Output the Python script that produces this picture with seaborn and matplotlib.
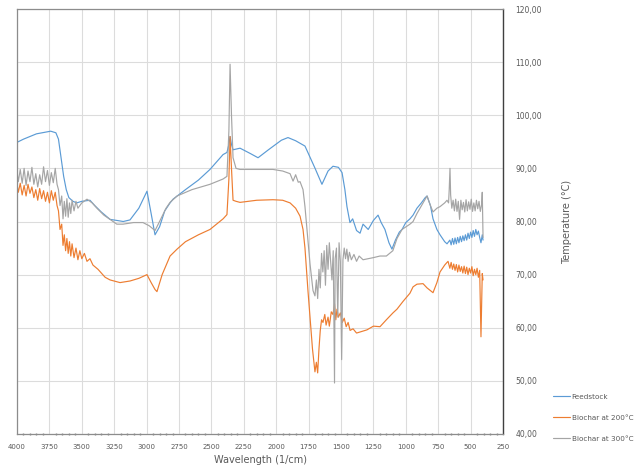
import pandas as pd
import numpy as np
import seaborn as sns
from matplotlib import pyplot as plt
from matplotlib.ticker import MultipleLocator, FuncFormatter

sns.set_theme(style="white")
plt.rcParams['font.family'] = ['DejaVu Sans']

# Feedstock (blue)
feed_x = [4000, 3950, 3900, 3850, 3784, 3740, 3700, 3680, 3660, 3640, 3620, 3600, 3568, 3540,
          3500, 3437, 3400, 3350, 3282, 3230, 3180, 3128, 3060, 2997, 2965, 2935, 2900, 2860,
          2819, 2796, 2700, 2600, 2511, 2410, 2380, 2365, 2356, 2345, 2333, 2279, 2200, 2140,
          2060, 1960, 1909, 1850, 1778, 1700, 1647, 1600, 1562, 1520, 1492, 1470, 1454, 1431,
          1410, 1380, 1353, 1330, 1290, 1250, 1214, 1190, 1161, 1130, 1107, 1080, 1050, 1029,
          1000, 968, 944, 914, 880, 850, 836, 810, 790, 760, 736, 700, 682, 660, 650, 640, 630,
          620, 610, 600, 590, 580, 570, 560, 550, 540, 530, 520, 510, 500, 490, 480, 470, 460,
          450, 440, 430, 420, 410, 404]
feed_y = [94.9, 95.5, 96.0, 96.5, 96.8, 97.0, 96.7, 95.5, 92.0, 88.5, 86.0, 84.5, 83.8, 83.5,
          83.8, 84.0, 83.0, 81.8, 80.4, 80.2, 80.0, 80.3, 82.5, 85.7, 81.5, 77.5, 79.0, 82.0,
          83.5, 84.2, 86.0, 87.8, 89.8, 92.6, 93.0, 94.5, 96.0, 94.5, 93.5, 93.8, 92.8, 92.0,
          93.5, 95.3, 95.8, 95.2, 94.2, 90.0, 87.0, 89.5, 90.4, 90.2, 89.2, 86.0, 82.8, 79.8,
          80.5, 78.3, 77.8, 79.5, 78.5, 80.2, 81.2, 79.8, 78.5, 76.0, 74.8, 76.5, 78.0, 78.5,
          79.8, 80.5, 81.2, 82.5, 83.5, 84.5, 84.8, 83.0, 80.5, 78.5, 77.5, 76.2, 75.8, 76.5,
          75.6, 76.8, 75.7, 76.9, 75.8, 77.0, 76.0, 77.2, 76.2, 77.3, 76.4, 77.5, 76.5, 77.8,
          76.8, 78.0, 77.0, 78.3, 77.2, 78.5, 77.5, 78.2, 77.0, 76.0, 77.5, 76.5]

# Biochar (orange)
bc1_x = [4000, 3990, 3975, 3960, 3945, 3930, 3915, 3900, 3885, 3870, 3855, 3840, 3825, 3810,
         3795, 3780, 3765, 3750, 3735, 3720, 3705, 3691, 3680, 3668, 3655, 3645, 3635, 3625,
         3615, 3605, 3595, 3585, 3575, 3560, 3545, 3530, 3515, 3500, 3480, 3460, 3437, 3414,
         3375, 3320, 3282, 3205, 3128, 3060, 2997, 2965, 2935, 2920, 2880, 2819, 2765, 2700,
         2600, 2511, 2410, 2380, 2365, 2356, 2345, 2333, 2310, 2279, 2150, 2025, 1950, 1893,
         1850, 1816, 1793, 1778, 1755, 1739, 1720, 1701, 1690, 1680, 1670, 1660, 1650, 1639,
         1625, 1615, 1600, 1590, 1575, 1562, 1550, 1540, 1531, 1520, 1505, 1490, 1475, 1460,
         1445, 1430, 1407, 1380, 1353, 1300, 1250, 1199, 1150, 1099, 1068, 1020, 968, 944,
         914, 867, 836, 790, 760, 736, 700, 682, 674, 660, 650, 640, 630, 620, 610, 600, 590,
         580, 570, 560, 550, 540, 530, 520, 510, 500, 490, 480, 470, 460, 450, 440, 430, 420,
         410, 404]
bc1_y = [87.0, 85.5, 87.2, 85.0, 86.8, 84.8, 87.0, 85.3, 86.5, 84.5, 86.0, 84.0, 86.2, 84.3,
         85.8, 83.8, 85.5, 83.5, 85.8, 84.0, 85.5, 83.0, 82.0, 78.5, 79.5, 75.5, 77.5, 74.5,
         76.8, 74.0, 76.2, 73.5, 75.8, 73.2, 75.0, 72.8, 74.5, 73.0, 74.0, 72.5, 73.0, 71.8,
         71.0, 69.5, 69.0, 68.5, 68.8, 69.3, 70.0, 68.5, 67.2, 66.8, 70.0, 73.5, 74.8, 76.2,
         77.5, 78.5, 80.5, 81.3, 88.0, 96.0, 90.0, 84.0, 83.8, 83.6, 84.0, 84.1, 84.0, 83.5,
         82.5, 81.0, 78.5, 75.0, 67.0, 62.0, 56.0, 51.7, 53.5, 51.5, 56.0, 59.5, 61.5, 61.0,
         62.5, 60.5, 62.0, 60.3, 63.0, 62.5, 64.5, 61.5, 63.5, 62.0, 62.8, 61.0, 61.8, 60.2,
         61.0, 59.5, 59.8, 59.0, 59.2, 59.6, 60.3, 60.2, 61.5, 62.8, 63.5, 65.0, 66.5, 67.7,
         68.2, 68.3, 67.5, 66.6, 68.5, 70.5, 71.8, 72.3, 72.5, 71.2, 72.3, 71.0, 72.0, 70.8,
         71.9, 70.5, 71.8, 70.6, 71.5, 70.3, 71.6, 70.2, 71.4, 70.0, 71.2, 70.3, 71.5, 69.8,
         71.0, 70.0, 71.2, 69.5, 70.8, 58.3, 70.2, 69.0]

# Biochar (gray)
bc2_x = [4000, 3990, 3975, 3960, 3945, 3930, 3915, 3900, 3885, 3870, 3855, 3840, 3825, 3810,
         3795, 3780, 3765, 3750, 3735, 3720, 3705, 3691, 3680, 3668, 3655, 3645, 3635, 3625,
         3615, 3605, 3595, 3585, 3575, 3560, 3545, 3530, 3500, 3460, 3420, 3383, 3330, 3282,
         3230, 3182, 3100, 3028, 2980, 2935, 2900, 2850, 2819, 2765, 2650, 2511, 2410, 2380,
         2365, 2356, 2345, 2333, 2310, 2279, 2150, 2025, 1950, 1893, 1870, 1850, 1830, 1816,
         1793, 1778, 1755, 1739, 1716, 1701, 1690, 1680, 1670, 1660, 1650, 1640, 1630, 1620,
         1610, 1600, 1590, 1580, 1570, 1560, 1550, 1545, 1535, 1525, 1515, 1505, 1495, 1485,
         1475, 1465, 1455, 1445, 1435, 1420, 1400, 1380, 1360, 1330, 1290, 1250, 1199, 1150,
         1100, 1068, 1029, 968, 944, 914, 867, 836, 810, 790, 760, 736, 700, 682, 670, 665,
         659, 654, 645, 635, 625, 615, 605, 595, 585, 575, 565, 555, 545, 535, 525, 515, 505,
         495, 485, 475, 465, 455, 445, 435, 425, 415, 410, 404]
bc2_y = [89.4, 87.5, 89.8, 87.2, 90.0, 86.8, 89.5, 87.5, 90.2, 87.0, 89.0, 86.5, 88.8, 87.0,
         90.3, 87.5, 89.6, 86.8, 89.2, 87.3, 90.0, 87.0, 86.0, 83.0, 84.8, 80.5, 83.8, 81.0,
         84.3, 80.8, 83.5, 81.5, 84.0, 82.0, 83.8, 82.5, 83.5, 84.2, 83.5, 82.5, 81.2, 80.4,
         79.5, 79.5, 79.8, 79.8, 79.2, 78.3, 80.0, 82.5, 83.6, 84.8, 86.0, 87.0, 88.0, 88.5,
         97.0, 109.6, 100.0, 92.0, 90.0, 89.8, 89.8, 89.8, 89.5, 89.0, 87.6, 88.8, 87.4, 87.5,
         86.0, 82.8, 76.5, 72.0, 67.0, 66.0, 69.0, 65.5, 71.0, 67.5, 74.0, 70.5, 74.5, 68.0,
         75.5, 71.0, 76.0, 72.5, 69.0, 74.5, 49.6, 73.0, 75.0, 62.0, 76.0, 72.5, 54.0, 72.8,
         75.0, 73.0, 74.8, 72.5, 74.2, 72.8, 73.8, 72.5, 73.5, 72.8, 73.0, 73.2, 73.5, 73.5,
         74.5, 76.8, 78.5, 79.5, 80.0, 81.5, 83.5, 84.8, 83.0, 81.8, 82.5, 82.8, 83.5, 84.0,
         83.5, 86.0, 90.0, 85.0, 82.5, 84.0, 82.0, 84.2, 81.9, 83.8, 80.4, 84.0, 82.2, 83.6,
         81.8, 84.1, 82.0, 83.7, 82.3, 84.2, 81.9, 83.5, 82.0, 84.0, 82.4, 83.8, 81.9, 83.2,
         85.5, 77.0]

labels = ["Feedstock", "Biochar at 200°C", "Biochar at 300°C"]
colors = ["#5B9BD5", "#ED7D31", "#A5A5A5"]

df = pd.concat([
    pd.DataFrame({"Wavelength": feed_x, "Temperature": feed_y, "Sample": labels[0]}),
    pd.DataFrame({"Wavelength": bc1_x, "Temperature": bc1_y, "Sample": labels[1]}),
    pd.DataFrame({"Wavelength": bc2_x, "Temperature": bc2_y, "Sample": labels[2]}),
], ignore_index=True)

fig = plt.figure(figsize=(6.41, 4.72), dpi=100)
ax = fig.add_axes([17 / 641, 38 / 472, 486 / 641, 425 / 472])

sns.lineplot(data=df, x="Wavelength", y="Temperature", hue="Sample", palette=colors,
             estimator=None, linewidth=0.85, ax=ax)

ax.set_xlim(4000, 250)
ax.set_ylim(40, 120)
ax.xaxis.set_major_locator(MultipleLocator(250))
ax.xaxis.set_minor_locator(MultipleLocator(50))
ax.yaxis.set_major_locator(MultipleLocator(10))
ax.yaxis.tick_right()
ax.yaxis.set_label_position("right")
ax.yaxis.set_major_formatter(FuncFormatter(lambda v, p: f"{v:.2f}".replace(".", ",")))
ax.grid(True, which="major", color="#dcdcdc", linewidth=0.8)

ax.tick_params(axis="x", which="major", labelsize=5, length=0, pad=7, colors="#595959")
ax.tick_params(axis="x", which="minor", length=2, direction="inout", color="#8c8c8c",
               bottom=True)
ax.tick_params(axis="y", labelsize=5.5, length=0, pad=9, colors="#595959")

for side in ["left", "top", "bottom"]:
    ax.spines[side].set_color("#8c8c8c")
    ax.spines[side].set_linewidth(0.9)
ax.spines["right"].set_color("#404040")
ax.spines["right"].set_linewidth(1.0)

ax.set_xlabel("Wavelength (1/cm)", fontsize=7, color="#595959", labelpad=4)
ax.set_ylabel("Temperature (°C)", fontsize=7, color="#595959", labelpad=14, rotation=90)

handles, labs = ax.get_legend_handles_labels()
ax.get_legend().remove()
fig.legend(handles, labs, loc="upper left", bbox_to_anchor=(550 / 641, 1 - 391 / 472),
           frameon=False, fontsize=5.2, labelspacing=2.05, handlelength=2.3,
           handletextpad=0.3, borderaxespad=0, labelcolor="#595959")

fig.savefig("out.png", dpi=100)
